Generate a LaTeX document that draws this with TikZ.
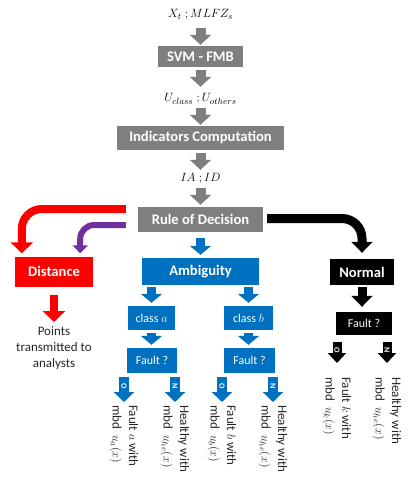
\documentclass[tikz,border=0pt]{standalone}
\usepackage{fontspec}
\setmainfont{Carlito}
\usetikzlibrary{arrows.meta,calc}
\definecolor{cgray}{HTML}{7F7F7F}
\definecolor{cblue}{HTML}{0070C0}
\definecolor{cred}{HTML}{FF0000}
\definecolor{cpurp}{HTML}{7030A0}
\definecolor{ctext}{HTML}{262626}
\begin{document}
\begin{tikzpicture}[x=1pt,y=-1pt,
  every node/.style={inner sep=0pt},
  boxg/.style={fill=cgray,text=white,font=\bfseries\fontsize{14.6}{16}\selectfont},
  boxr/.style={fill=cred,text=white,font=\bfseries\fontsize{14.6}{16}\selectfont},
  boxb/.style={fill=cblue,text=white,font=\bfseries\fontsize{14.6}{16}\selectfont},
  boxk/.style={fill=black,text=white,font=\bfseries\fontsize{14.6}{16}\selectfont},
  smalltxt/.style={font=\fontsize{12}{14}\selectfont},
  mtext/.style={font=\fontsize{12.5}{14}\selectfont,minimum height=16pt},
  garr/.style={draw=cgray,line width=10pt,-{Triangle[width=21pt,length=10pt]}},
  barr/.style={draw=cblue,line width=9pt,-{Triangle[width=21pt,length=9pt]}},
  karr/.style={draw=black,line width=9pt,-{Triangle[width=21pt,length=11pt]}},
  rarr/.style={draw=cred,line width=8pt,-{Triangle[width=22pt,length=11pt]}},
  parr/.style={draw=cpurp,line width=6pt,-{Triangle[width=15pt,length=8pt]}},
  barrs/.style={draw=cblue,line width=10pt,-{Triangle[width=20pt,length=10pt]}},
  karrs/.style={draw=black,line width=9pt,-{Triangle[width=18pt,length=10pt]}},
  lbl/.style={rotate=-90,text=white,font=\bfseries\fontsize{8}{8}\selectfont},
  rot/.style={rotate=-90,anchor=west,align=left,text=ctext,font=\fontsize{13}{16.5}\selectfont}]
\useasboundingbox (0,0) rectangle (411,493);

% main column
\node[mtext] (in) at (200.5,15) {$X_t\;;MLFZ_s$};
\node[boxg,minimum width=85pt,minimum height=21pt] (svm) at (200.5,56.5) {SVM - FMB};
\node[mtext] (uc) at (200.5,99) {$U_{class}\;;U_{others}$};
\node[boxg,minimum width=167pt,minimum height=24pt] (ind) at (200.5,138) {Indicators Computation};
\node[mtext] (ia) at (200.5,179) {$IA\;;ID$};
\node[boxg,minimum width=125pt,minimum height=25pt] (rule) at (200.5,219.5) {Rule of Decision};

% second row
\node[boxr,minimum width=78pt,minimum height=30pt] (dist) at (54,271.5) {Distance};
\node[boxb,minimum width=117pt,minimum height=27pt] (amb) at (200.5,271.5) {Ambiguity};
\node[boxk,minimum width=64pt,minimum height=26pt] (norm) at (362,272) {Normal};

\node[anchor=north,align=center,text=ctext,font=\fontsize{13}{16}\selectfont] (pts) at (54,326) {Points\\transmitted to\\analysts};

\node[boxb,smalltxt,minimum width=47pt,minimum height=24pt] (ca) at (151.5,318) {class $a$};
\node[boxb,smalltxt,minimum width=49pt,minimum height=24pt] (cb) at (248.5,318) {class $b$};
\node[boxb,smalltxt,minimum width=50pt,minimum height=25pt] (fa) at (152,360.5) {Fault ?};
\node[boxb,smalltxt,minimum width=51pt,minimum height=25pt] (fb) at (249.5,360.5) {Fault ?};
\node[boxk,smalltxt,minimum width=56pt,minimum height=23pt] (fn) at (364,323.5) {Fault ?};

% rotated outcome texts
\node[rot] (ta1) at (124,405) {Fault $a$ with\\mbd\ \ $u_a(x)$};
\node[rot] (ta2) at (175,405) {Healthy with\\mbd\ \ $u_{he}(x)$};
\node[rot] (ta3) at (222,405) {Fault $b$ with\\mbd\ \ $u_b(x)$};
\node[rot] (ta4) at (273,405) {Healthy with\\mbd\ \ $u_{he}(x)$};
\node[rot] (ta5) at (337,377) {Fault $k$ with\\mbd\ \ $u_k(x)$};
\node[rot] (ta6) at (387,377) {Healthy with\\mbd\ \ $u_{he}(x)$};

% gray arrows
\draw[garr,shorten <=5pt,shorten >=1pt] (in.south) -- (svm.north);
\draw[garr,shorten <=3pt,shorten >=4pt] (svm.south) -- (uc.north);
\draw[garr,shorten <=1pt,shorten >=1pt] (uc.south) -- (ind.north);
\draw[garr,shorten <=3pt,shorten >=1pt] (ind.south) -- (ia.north);
\draw[garr,shorten <=1pt,shorten >=2pt] (ia.south) -- (rule.north);

% decision arrows
\draw[rarr,rounded corners=20pt,shorten <=12pt] (rule.north west |- 0,209) -| ($(dist.north west)+(7,-3)$);
\draw[parr,rounded corners=14pt,shorten <=12pt] (rule.west |- 0,225) -| ($(dist.north east)+(-13,-3)$);
\draw[karr,rounded corners=20pt,shorten <=4pt,shorten >=6pt] (rule.east |- 0,218.5) -| (norm.north);
\draw[barr,shorten <=6pt,shorten >=3pt] (rule.south) -- (amb.north);

% distance
\draw[rarr,shorten <=8pt,shorten >=4pt] (dist.south) -- (pts.north);

% ambiguity branch
\draw[barr,shorten <=2pt,shorten >=3pt] (amb.south -| ca.north) -- (ca.north);
\draw[barr,shorten <=2pt,shorten >=3pt] (amb.south -| cb.north) -- (cb.north);
\draw[barr,shorten <=3pt,shorten >=3pt] (ca.south) -- (ca.south |- fa.north);
\draw[barr,shorten <=3pt,shorten >=3pt] (cb.south) -- (cb.south |- fb.north);

% normal branch
\draw[karr,shorten <=2pt,shorten >=5pt] (norm.south) -- (norm.south |- fn.north);

% O / N arrows
\draw[barrs,shorten <=4pt,shorten >=3pt] (fa.south -| ta1.west) -- node[lbl,pos=0.42] {O} (ta1.west);
\draw[barrs,shorten <=4pt,shorten >=3pt] (fa.south -| ta2.west) -- node[lbl,pos=0.42] {N} (ta2.west);
\draw[barrs,shorten <=4pt,shorten >=3pt] (fb.south -| ta3.west) -- node[lbl,pos=0.42] {O} (ta3.west);
\draw[barrs,shorten <=4pt,shorten >=3pt] (fb.south -| ta4.west) -- node[lbl,pos=0.42] {N} (ta4.west);
\draw[karrs,shorten <=7pt,shorten >=14pt] (fn.south -| ta5.west) -- node[lbl,pos=0.35] {O} (ta5.west);
\draw[karrs,shorten <=7pt,shorten >=14pt] (fn.south -| ta6.west) -- node[lbl,pos=0.35] {N} (ta6.west);
\end{tikzpicture}
\end{document}
